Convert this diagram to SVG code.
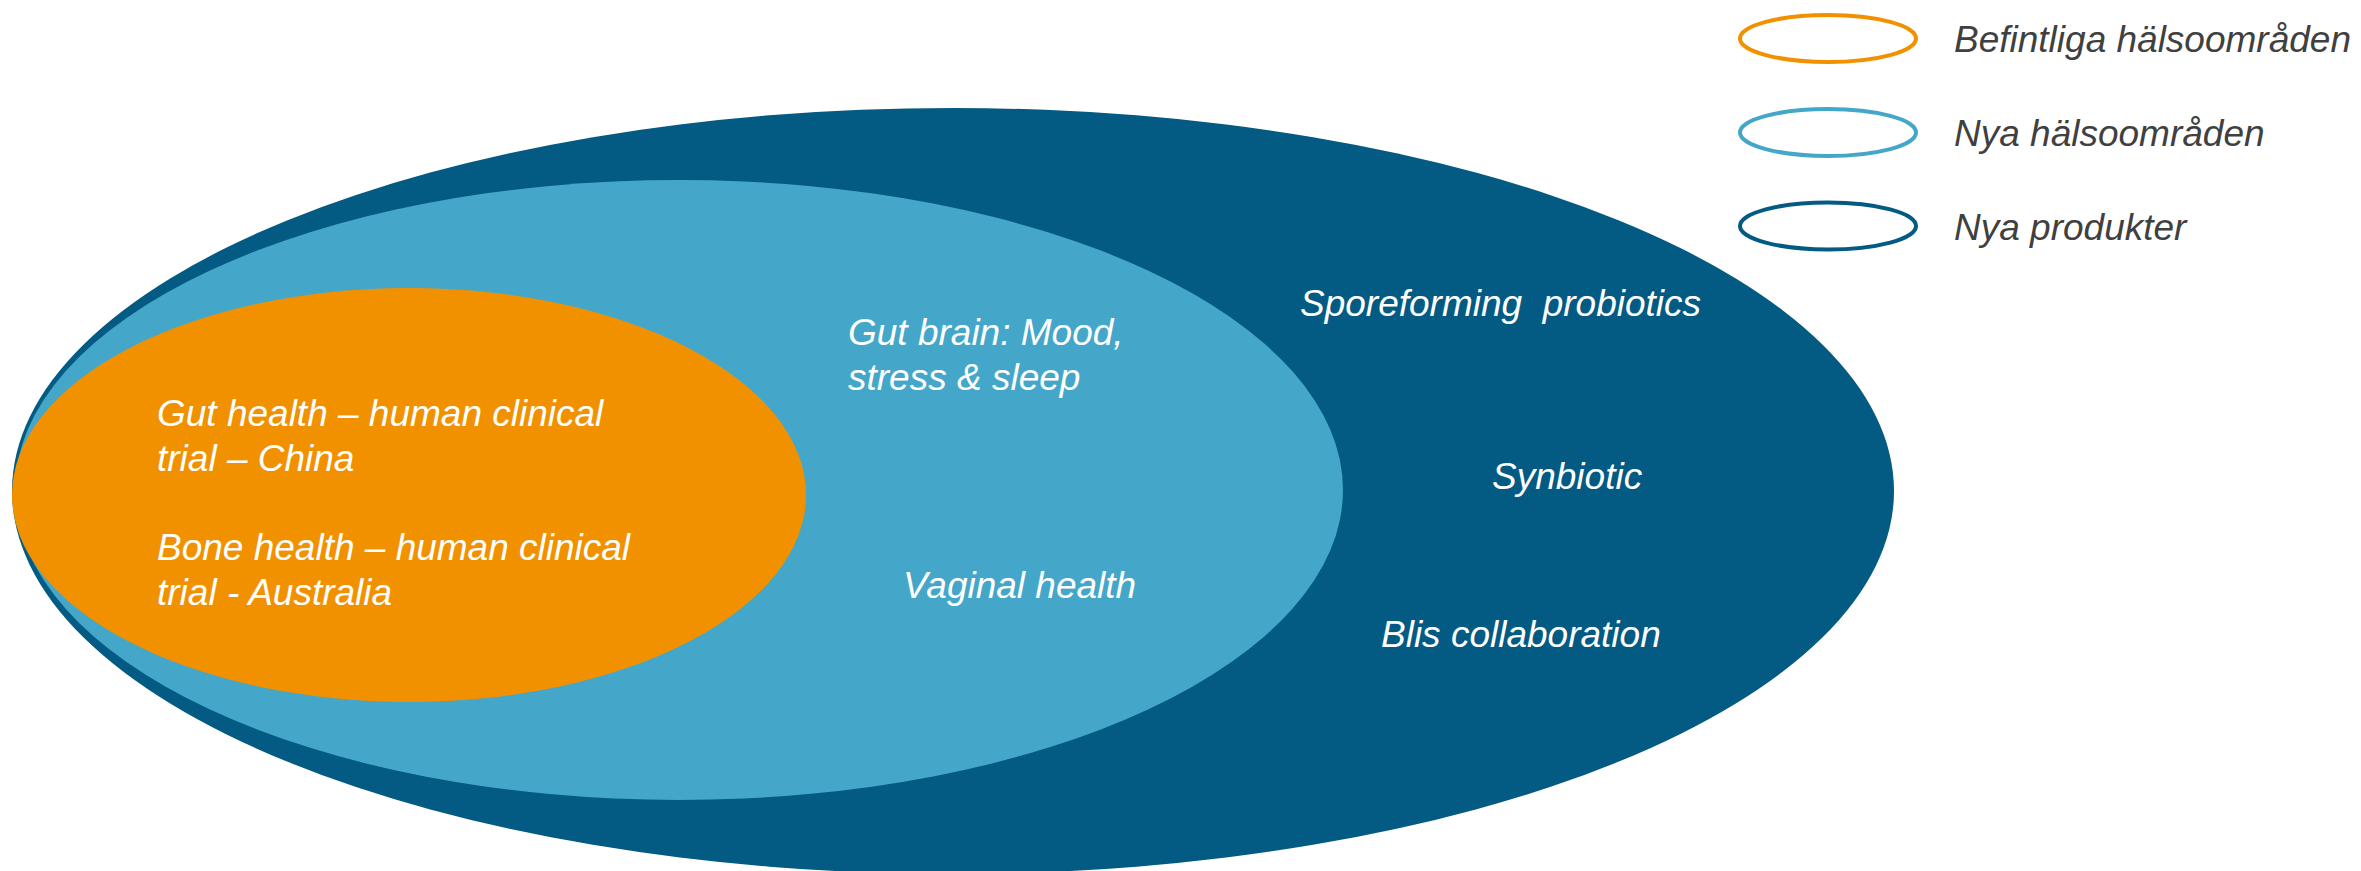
<svg xmlns="http://www.w3.org/2000/svg" width="2361" height="871" viewBox="0 0 2361 871">
  <style>
    .lbl { font-family: "Liberation Sans", Arial, sans-serif; font-style: italic; font-size: 37px; fill: #ffffff; }
    .leg { font-family: "Liberation Sans", Arial, sans-serif; font-style: italic; font-size: 37px; fill: #404040; }
    .dark { fill: #035A82; }
    .light { fill: #44A7C9; }
    .orange { fill: #F29100; }
    .ring { fill: none; stroke-width: 4; }
  </style>
  <rect width="2361" height="871" fill="#ffffff"/>
  <g id="nya-produkter">
    <ellipse class="dark" cx="953" cy="491" rx="941" ry="383"/>
    <text class="lbl" x="1300" y="316" xml:space="preserve">Sporeforming  probiotics</text>
    <text class="lbl" x="1492" y="489">Synbiotic</text>
    <text class="lbl" x="1381" y="647">Blis collaboration</text>
  </g>
  <g id="nya-halsoomraden">
    <ellipse class="light" cx="679" cy="490" rx="664" ry="310"/>
    <text class="lbl" x="848" y="345">Gut brain: Mood,</text>
    <text class="lbl" x="848" y="390">stress &amp; sleep</text>
    <text class="lbl" x="903" y="598">Vaginal health</text>
  </g>
  <g id="befintliga-halsoomraden">
    <ellipse class="orange" cx="409" cy="495" rx="397" ry="207"/>
    <text class="lbl" x="157" y="426">Gut health – human clinical</text>
    <text class="lbl" x="157" y="471">trial – China</text>
    <text class="lbl" x="157" y="560">Bone health – human clinical</text>
    <text class="lbl" x="157" y="605">trial - Australia</text>
  </g>
  <g id="connectors"/>
  <g id="legend">
    <g id="legend-befintliga">
      <ellipse class="ring" cx="1828" cy="38.5" rx="88" ry="23.5" stroke="#F29100"/>
      <text class="leg" x="1954" y="52">Befintliga hälsoområden</text>
    </g>
    <g id="legend-nya-halso">
      <ellipse class="ring" cx="1828" cy="132.5" rx="88" ry="23.5" stroke="#44A7C9"/>
      <text class="leg" x="1954" y="146">Nya hälsoområden</text>
    </g>
    <g id="legend-nya-produkter">
      <ellipse class="ring" cx="1828" cy="226" rx="88" ry="23.5" stroke="#035A82"/>
      <text class="leg" x="1954" y="240">Nya produkter</text>
    </g>
  </g>
</svg>
